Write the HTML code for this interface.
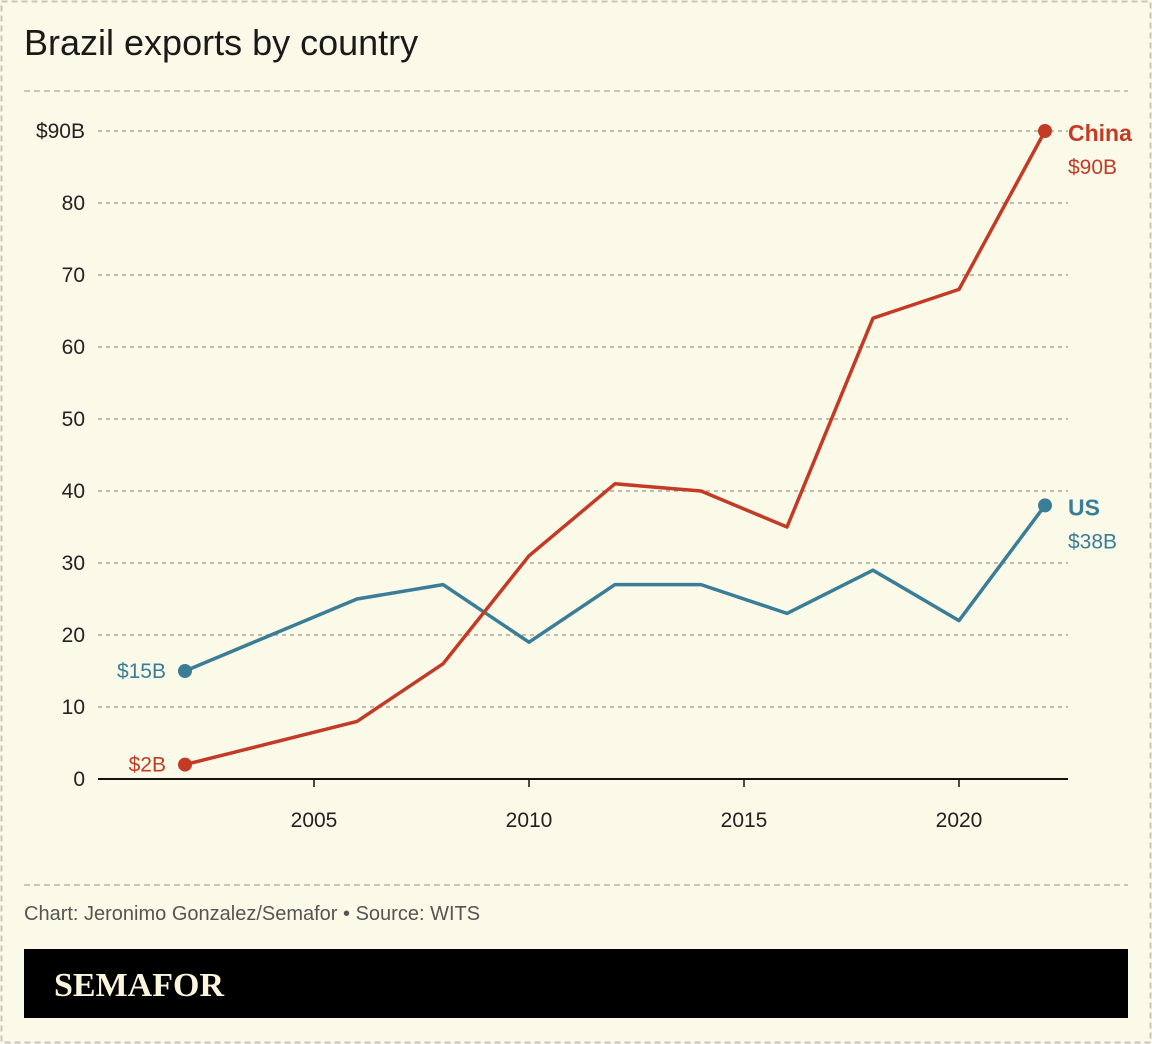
<!DOCTYPE html>
<html><head><meta charset="utf-8"><style>
html,body{margin:0;padding:0;background:#fbf9e8;}
svg{display:block;font-family:"Liberation Sans",sans-serif;}
</style></head><body>
<svg id="chart" width="1152" height="1044" viewBox="0 0 1152 1044">
<rect x="0" y="0" width="1152" height="1044" fill="#fbf9e8"/>
<rect x="1.5" y="1.5" width="1149" height="1041" fill="none" stroke="#c8c6b8" stroke-width="2" stroke-dasharray="6,4"/>
<text x="24" y="55" font-size="36" fill="#1a1a1a">Brazil exports by country</text>
<line x1="24" y1="91" x2="1128" y2="91" stroke="#c8c6b8" stroke-width="2" stroke-dasharray="6,4"/>
<g id="grid"></g>
<g id="lines"></g>
<line x1="24" y1="885" x2="1128" y2="885" stroke="#c8c6b8" stroke-width="2" stroke-dasharray="6,4"/>
<text x="24" y="920" font-size="20" fill="#555">Chart: Jeronimo Gonzalez/Semafor • Source: WITS</text>
<rect x="24" y="949" width="1104" height="69" fill="#000"/>
<text x="54" y="996" font-size="34" font-weight="bold" fill="#fbf5dc" font-family="Liberation Serif, serif">SEMAFOR</text>
</svg>
<script>
const years = [2002,2006,2008,2010,2012,2014,2016,2018,2020,2022];
const china = [2,8,16,31,41,40,35,64,68,90];
const us = [15,25,27,19,27,27,23,29,22,38];
const yTicks = [0,10,20,30,40,50,60,70,80,90];
const yTickLabels = ["0","10","20","30","40","50","60","70","80","$90B"];
const xTicks = [2005,2010,2015,2020];
const NS="http://www.w3.org/2000/svg";
function x(v){return 314+(v-2005)*43;}
function y(v){return 779-v*7.2;}
function mk(tag,attrs,parent,text){const e=document.createElementNS(NS,tag);for(const k in attrs)e.setAttribute(k,attrs[k]);if(text!==undefined)e.textContent=text;parent.appendChild(e);return e;}
const grid=document.getElementById('grid');
yTicks.forEach((t,i)=>{
  if(t>0){const l=mk('line',{x1:98,x2:1068,y1:y(t),y2:y(t),stroke:'#aaa89a','stroke-width':1.5,'stroke-dasharray':'4,4'},grid);
  
  }
  const tx=mk('text',{x:85,y:y(t)+7,'font-size':21,fill:'#222','text-anchor':'end'},grid,yTickLabels[i]);
  
  
});
const ax=mk('line',{x1:98,x2:1068,y1:y(0),y2:y(0),stroke:'#111','stroke-width':2},grid);


xTicks.forEach(t=>{
  const tk=mk('line',{x1:x(t),x2:x(t),y1:y(0),y2:y(0)+8,stroke:'#111','stroke-width':1.5},grid);
  
  
  const tx=mk('text',{x:x(t),y:827,'font-size':21,fill:'#222','text-anchor':'middle'},grid,String(t));
  
  
});
const lines=document.getElementById('lines');
function series(vals,color,name,label){
  const p=mk('polyline',{points:vals.map((v,i)=>x(years[i])+','+y(v)).join(' '),fill:'none',stroke:color,'stroke-width':3.5,'stroke-linejoin':'round'},lines);
  
  
  const n=vals.length-1;
  [0,n].forEach(i=>{
    const c=mk('circle',{cx:x(years[i]),cy:y(vals[i]),r:7,fill:color},lines);
    
    
  });
  const s=mk('text',{x:x(years[0])-19,y:y(vals[0])+7,'font-size':21,fill:color,'text-anchor':'end'},lines,'$'+vals[0]+'B');
  
  
  const l=mk('text',{x:x(years[n])+23,y:y(vals[n])+10,'font-size':23,'font-weight':'bold',fill:color},lines,label);
  
  
  const e=mk('text',{x:x(years[n])+23,y:y(vals[n])+43,'font-size':21,fill:color},lines,'$'+vals[n]+'B');
  
  
}
series(us,'#3a7d96','us','US');
series(china,'#c33a25','china','China');
</script>
</body></html>
